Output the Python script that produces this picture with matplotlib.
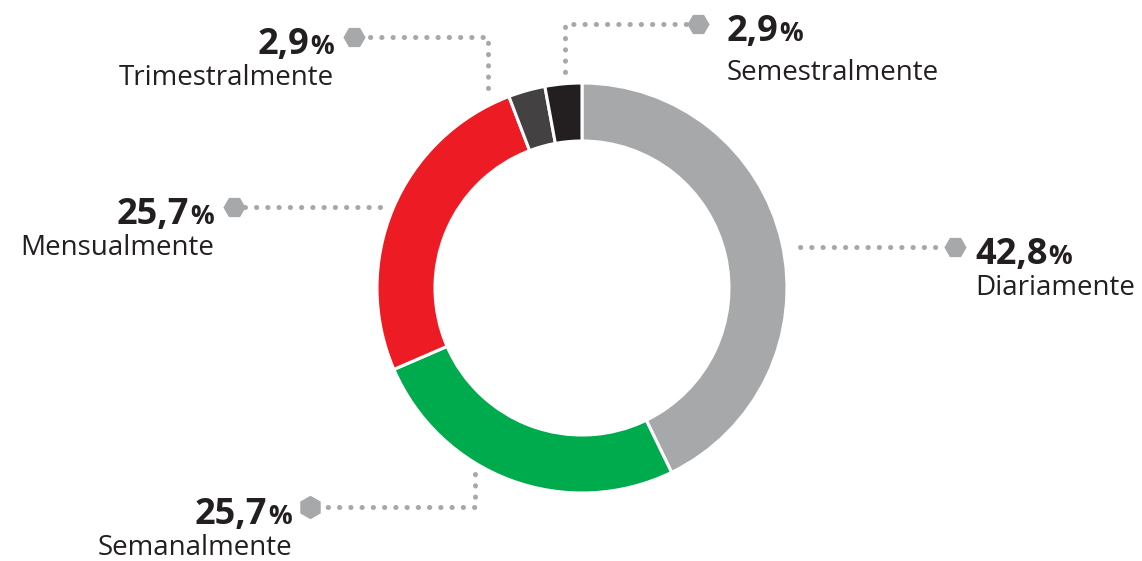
import numpy as np
import matplotlib
matplotlib.use("Agg")
import matplotlib.pyplot as plt

# data, clockwise from 12 o'clock
labels = ["Diariamente", "Semanalmente", "Mensualmente", "Trimestralmente", "Semestralmente"]
shares = [42.8, 25.7, 25.7, 2.9, 2.9]
colors = ["#A7A8AA", "#00AB4E", "#ED1C24", "#444142", "#231F20"]

W, H = 1142, 561
CX, CY = 582, 288      # donut centre (pixels, y down)
R_OUT, RING = 205, 58

DOT = "#A7A8AA"
TXT = "#231F20"
FONT = ["Open Sans", "DejaVu Sans"]

def Y(y):
    # pixel row -> data y
    return H - y

fig = plt.figure(figsize=(W / 100, H / 100), dpi=100)
ax = fig.add_axes([0, 0, 1, 1])
ax.pie(shares, colors=colors, startangle=90, counterclock=False,
       center=(CX, Y(CY)), radius=R_OUT,
       wedgeprops=dict(width=RING, edgecolor="white", linewidth=2.2))
ax.set_xlim(0, W)
ax.set_ylim(0, H)
ax.set_aspect("equal")
ax.axis("off")

# leader lines: (path points in pixels, marker, text anchor, alignment, label drop)
leaders = {
    "Diariamente":     ([(800, 247), (945, 247)], "H", (975, 247), "left", 48),
    "Semestralmente":  ([(565, 72), (565, 24), (688, 24)], "H", (727, 24), "left", 56),
    "Trimestralmente": ([(488, 88), (488, 37), (364, 37)], "H", (334, 37), "right", 48),
    "Mensualmente":    ([(380, 207), (244, 207)], "H", (214, 207), "right", 48),
    "Semanalmente":    ([(475, 474), (475, 507), (320, 507)], "h", (292, 507), "right", 48),
}

fig.canvas.draw()
rend = fig.canvas.get_renderer()

for lab, val in zip(labels, shares):
    pts, mk, (tx, ty), ha, drop = leaders[lab]
    xs = [p[0] for p in pts]
    ys = [Y(p[1]) for p in pts]
    ax.plot(xs, ys, color=DOT, lw=3.6, linestyle=(0, (0.05, 2.2)),
            dash_capstyle="round", solid_capstyle="round")
    end = pts[-1]
    hx = end[0] + (10 if ha == "left" else -10)
    ms = 16 if mk == "H" else 17
    ax.plot([hx], [Y(end[1])], marker=mk, ms=ms, color=DOT, mec="none")

    num = f"{val:.1f}".replace(".", ",")
    base = Y(ty + 17)
    if ha == "left":
        t1 = ax.text(tx, base, num, fontsize=26, fontweight="bold", color=TXT,
                     family=FONT, ha="left", va="baseline")
        bb = t1.get_window_extent(rend)
        ax.text(bb.x1 + 1, base, "%", fontsize=19, fontweight="bold", color=TXT,
                family=FONT, ha="left", va="baseline")
    else:
        t2 = ax.text(tx, base, "%", fontsize=19, fontweight="bold", color=TXT,
                     family=FONT, ha="right", va="baseline")
        bb = t2.get_window_extent(rend)
        ax.text(bb.x0 - 1, base, num, fontsize=26, fontweight="bold", color=TXT,
                family=FONT, ha="right", va="baseline")
    ax.text(tx, Y(ty + drop), lab, fontsize=20, color=TXT, family=FONT,
            ha=ha, va="baseline")

fig.savefig("out.png", dpi=100)
